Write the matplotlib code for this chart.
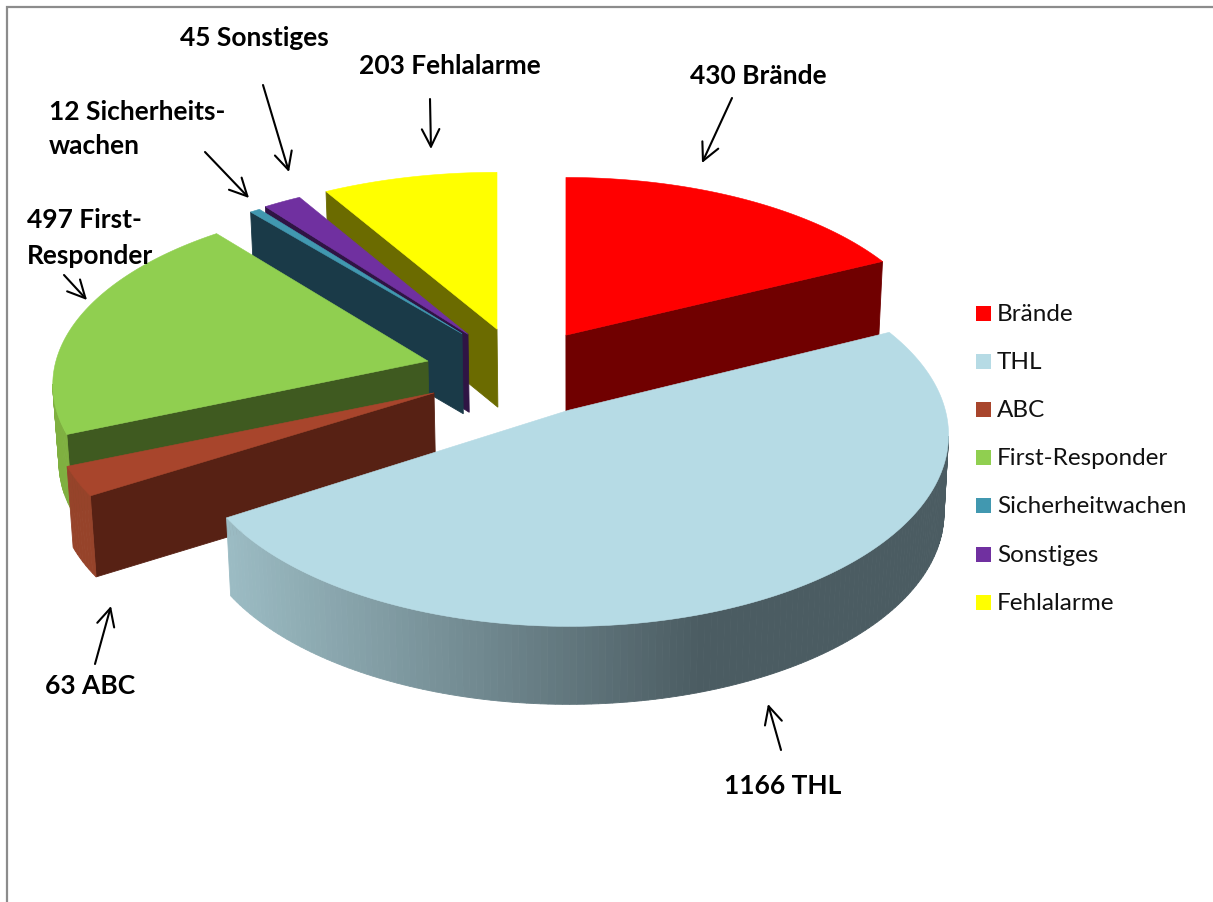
# -*- coding: utf-8 -*-
import numpy as np
import matplotlib
matplotlib.use('Agg')
import matplotlib.pyplot as plt
from matplotlib.colors import to_rgb

#%% data
names = ['Brände', 'THL', 'ABC', 'First-Responder', 'Sicherheitwachen', 'Sonstiges', 'Fehlalarme']
values = [430, 1166, 63, 497, 12, 45, 203]
callouts = ['430 Brände', '1166 THL', '63 ABC', '497 First-\nResponder',
            '12 Sicherheits-\nwachen', '45 Sonstiges', '203 Fehlalarme']

#%% styles
top_colors = ['#ff0000', '#b6dbe5', '#a8452c', '#90cf50', '#4198b0', '#7030a0', '#ffff00']
face_colors = ['#700000', '#4b5c62', '#572114', '#3f5a20', '#1a3a48', '#2f1444', '#6b6b00']
rim_colors = ['#700000', None, '#96432a', '#7fb040', '#1a3a48', '#2f1444', '#6b6b00']

# pie geometry in image pixels
cx, cy = 517, 368
rx, ry = 372, 180
persp = 0.13
explode = [0.248, 0.287, 0.2515, 0.247, 0.241, 0.238, 0.206]
nudge_y = [5, -3, 4, 4, 0, 2, -3]
zoom_x = [1, 1.012, 1.016, 1, 1, 1, 1.015]
zoom_y = [0.99, 1.045, 1, 1, 0.955, 0.98, 0.985]
depths = [76, 78, 81, 78, 80, 78, 78]
draw_order = [6, 5, 4, 3, 2, 0, 1]

# label anchor, arrow start, arrow end for every slice
label_pos = [(758, 76, 'center'), (783, 786, 'center'), (90, 686, 'center'),
             (27, 238, 'left'), (49, 129, 'left'), (254, 38, 'center'), (450, 66, 'center')]
arrows = [((732, 98), (702, 163)), ((781, 750), (768, 704)), ((95, 664), (111, 606)),
          ((64, 275), (87, 300)), ((205, 152), (249, 198)), ((263, 85), (289, 172)),
          ((430, 99), (431, 149))]

plt.rcParams['font.family'] = ['Lato', 'DejaVu Sans']

fig = plt.figure(figsize=(12.13, 9.02), dpi=100)
ax = fig.add_axes([0, 0, 1, 1])
ax.set_xlim(0, 1213)
ax.set_ylim(902, 0)
ax.axis('off')

# frame, open to the right and the bottom
ax.plot([7, 7, 1213], [902, 7, 7], color='#8c8c8c', lw=1.6, solid_joinstyle='miter')


def bottom(p, d):
    return np.array([570 + (p[0] - 570) * 0.988, p[1] + d])


def thl_shade(x):
    t = np.clip((x - 225) / (700 - 225), 0, 1)
    return (1 - t) * np.array(to_rgb('#9cbcc4')) + t * np.array(to_rgb('#4b5c62'))


edges = np.cumsum([0] + values) / sum(values) * 2 * np.pi

for i in draw_order:
    a0, a1 = edges[i], edges[i + 1]
    mid = (a0 + a1) / 2
    apex = np.array([cx + explode[i] * rx * np.sin(mid),
                     cy - explode[i] * ry * np.cos(mid) + nudge_y[i]])
    ang = np.linspace(a0, a1, max(int((a1 - a0) * 60), 6))
    X, Y = np.sin(ang), np.cos(ang)
    w = 1 + persp * Y
    arc = np.column_stack([apex[0] + zoom_x[i] * rx * X / w, apex[1] - zoom_y[i] * ry * Y / w])
    pts = np.vstack([apex, arc])
    centre = pts.mean(axis=0)

    # only the side walls turned towards the viewer
    n = len(pts)
    for k in range(n):
        p, q = pts[k], pts[(k + 1) % n]
        normal = np.array([q[1] - p[1], p[0] - q[0]])
        if np.dot(normal, (p + q) / 2 - centre) < 0:
            normal = -normal
        if normal[1] <= 0:
            continue
        radial = k == 0 or k == n - 1
        if radial:
            col = face_colors[i]
        elif rim_colors[i] is None:
            col = thl_shade((p[0] + q[0]) / 2)
        else:
            col = rim_colors[i]
        quad = np.array([p, q, bottom(q, depths[i]), bottom(p, depths[i])])
        ax.fill(quad[:, 0], quad[:, 1], color=col, lw=0.6)

    ax.fill(pts[:, 0], pts[:, 1], color=top_colors[i], lw=0.4)

# callouts
for txt, (x, y, ha) in zip(callouts, label_pos):
    ax.text(x, y, txt, ha=ha, va='center', fontsize=19, fontweight='bold', color='black',
            linespacing=1.55)

for start, end in arrows:
    ax.annotate('', xy=end, xytext=start,
                arrowprops=dict(arrowstyle='->,head_length=0.9,head_width=0.45', color='black',
                                lw=1.5, shrinkA=0, shrinkB=0, mutation_scale=14))

# legend
for i, name in enumerate(names):
    y = 313.5 + i * 48.1
    ax.fill([976, 991, 991, 976], [y - 7.5, y - 7.5, y + 7.5, y + 7.5], color=top_colors[i], lw=0)
    ax.text(997, y + 1, name, ha='left', va='center', fontsize=17.5, color='#111111')

fig.savefig('out.png', dpi=100)
